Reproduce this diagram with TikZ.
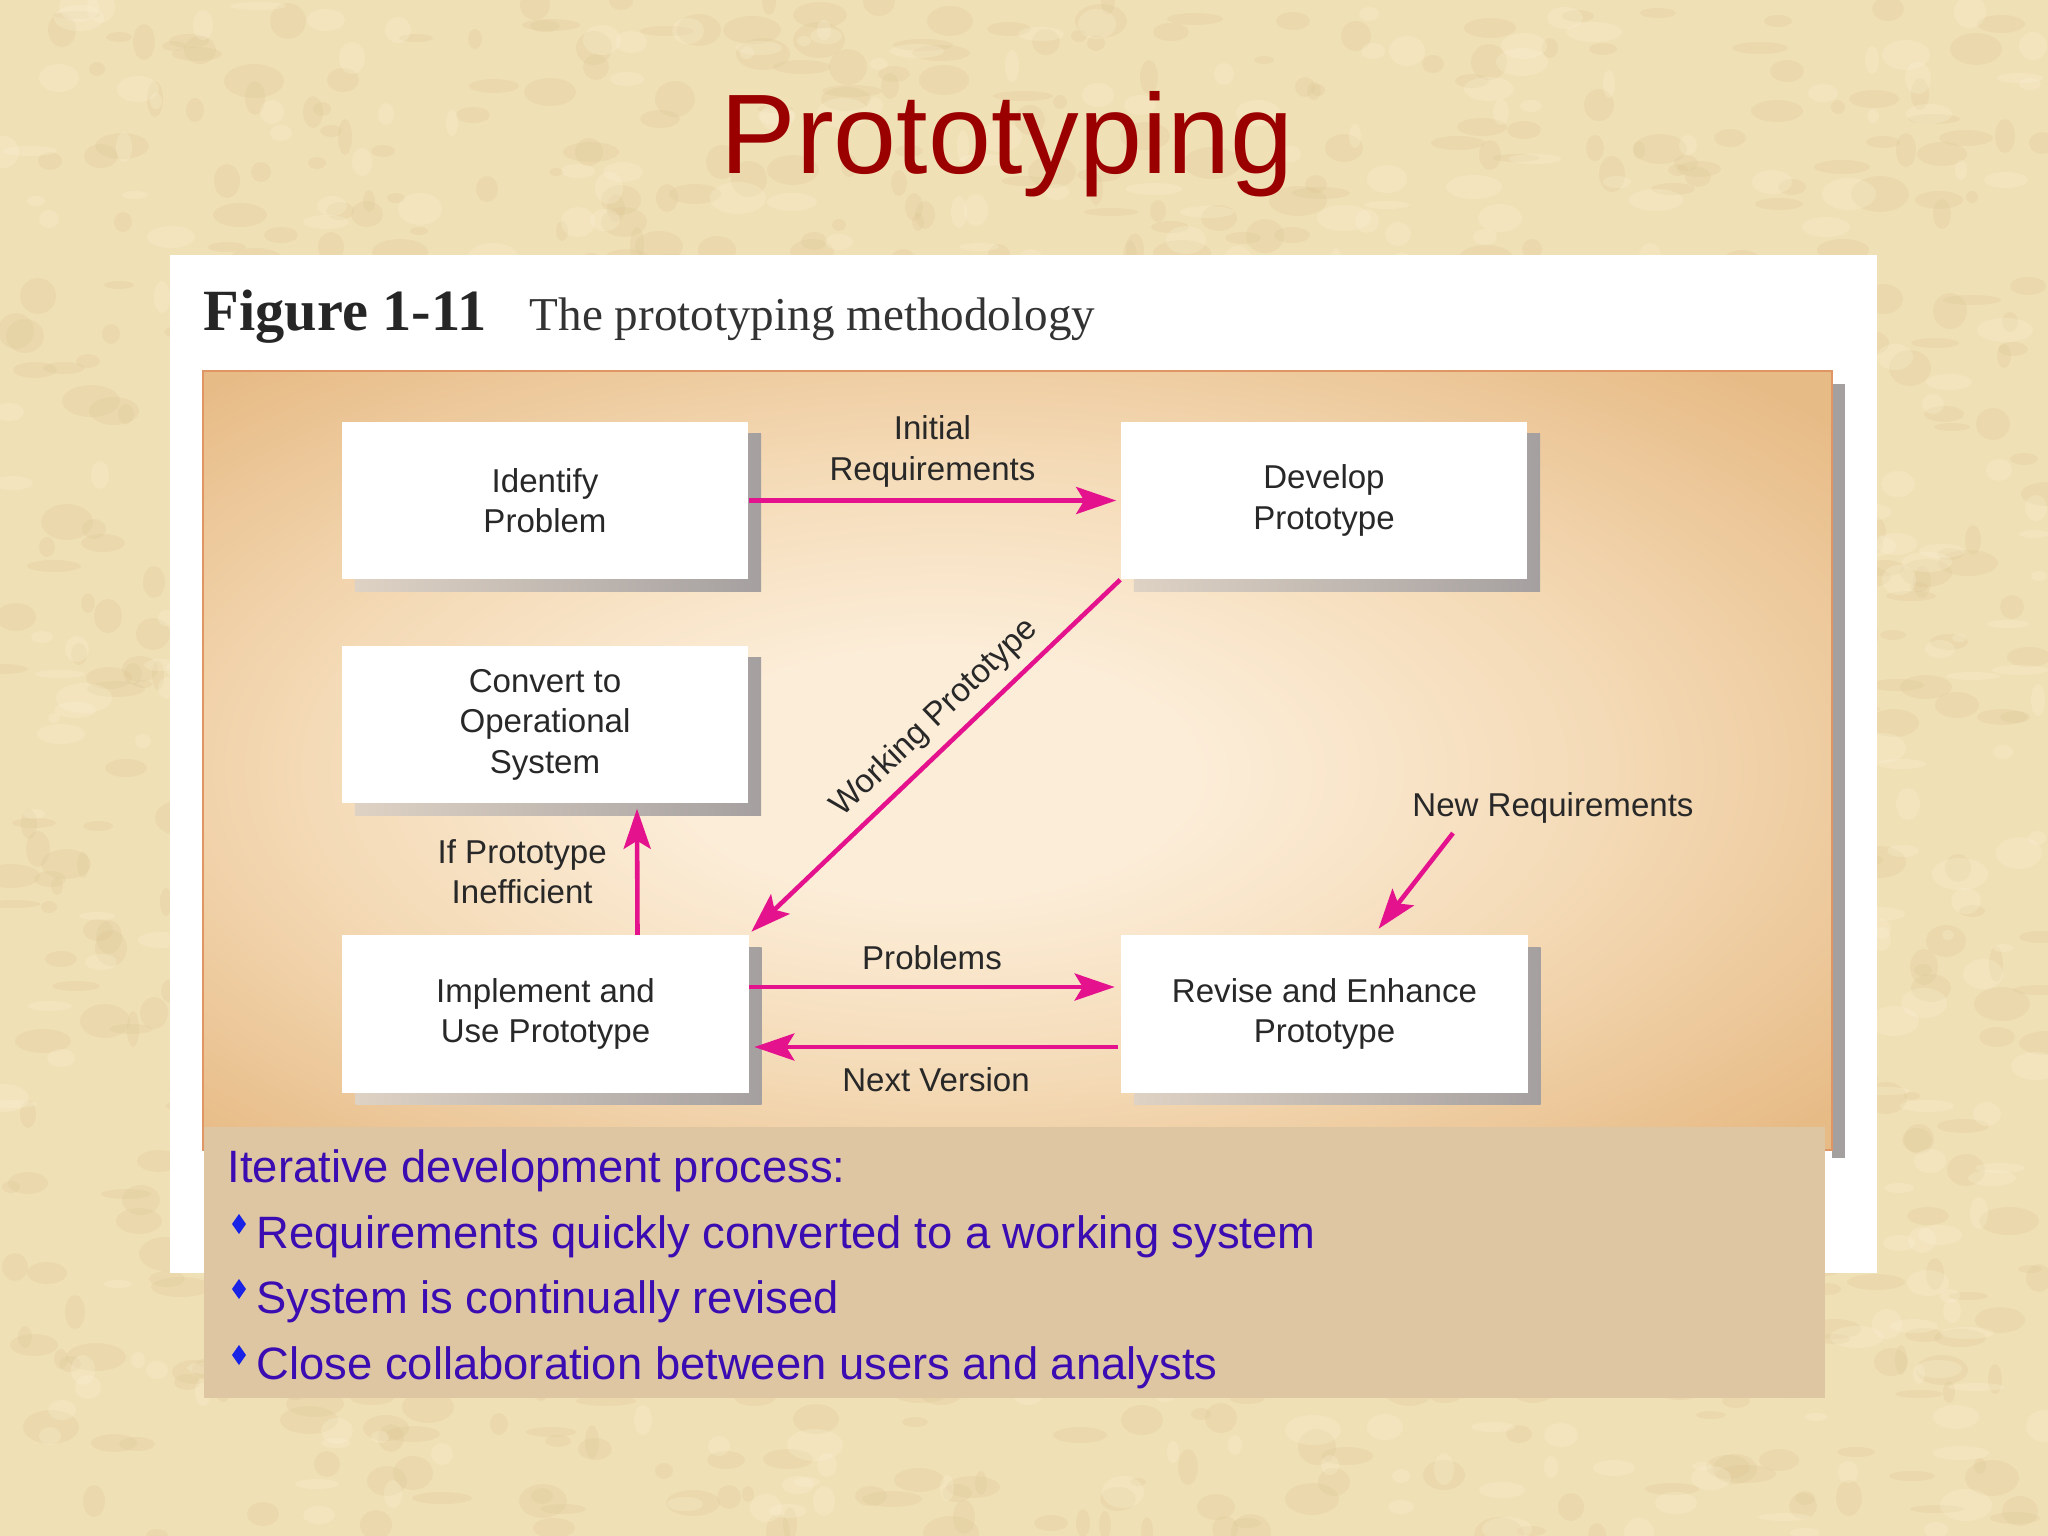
\documentclass[tikz,border=0pt]{standalone}
\usepackage{fontspec}
\setmainfont{Liberation Sans}
\newfontfamily\capfont{Liberation Serif}
\usetikzlibrary{arrows.meta,calc,shadows}

\definecolor{bgc}{RGB}{240,224,182}
\definecolor{blotc}{RGB}{212,186,132}
\definecolor{litec}{RGB}{252,242,215}
\definecolor{titlec}{RGB}{155,0,0}
\definecolor{pc1}{RGB}{252,237,216}
\definecolor{pc2}{RGB}{244,218,182}
\definecolor{pc3}{RGB}{231,187,134}
\definecolor{pborder}{RGB}{224,150,100}
\definecolor{tanc}{RGB}{221,198,161}
\definecolor{magc}{RGB}{228,18,140}
\definecolor{txtc}{RGB}{40,40,40}
\definecolor{bluec}{RGB}{58,12,178}
\definecolor{bulc}{RGB}{25,35,230}
\definecolor{shL}{RGB}{222,210,196}
\definecolor{shR}{RGB}{165,160,160}

\pgfdeclareradialshading{panelshade}{\pgfpoint{-3bp}{-1bp}}{color(0bp)=(pc1); color(8bp)=(pc1); color(20bp)=(pc2); color(34bp)=(pc3); color(50bp)=(pc3)}

\newcommand{\diagfont}{\fontsize{9.4pt}{11.5pt}\selectfont}
\newcommand{\btfont}{\fontsize{12.9pt}{15pt}\selectfont}

\tikzset{
  boxnode/.style={fill=white, minimum width=4.06cm, minimum height=1.57cm, inner sep=0pt,
    align=center, text=txtc, font=\diagfont,
    general shadow={shadow xshift=0.13cm, shadow yshift=-0.12cm, left color=shL, right color=shR}},
  arr/.style={draw=magc, line width=1.3pt, -{Stealth[length=0.40cm, width=0.27cm, inset=0.08cm]}},
  lbl/.style={text=txtc, font=\diagfont, align=center, inner sep=0pt},
  btext/.style={anchor=base west, text=bluec, font=\btfont, inner sep=0pt},
  bul/.style={fill=bulc}
}

\begin{document}
\begin{tikzpicture}[x=0.01cm,y=-0.01cm]
\useasboundingbox (0,0) rectangle (2048,1536);
\fill[bgc] (0,0) rectangle (2048,1536);
\begin{scope}
\clip (0,0) rectangle (2048,1536);
\pgfmathsetseed{7}
\foreach \i in {1,...,1100}{
  \pgfmathsetmacro{\bx}{random(0,2048)}
  \pgfmathsetmacro{\by}{random(0,1536)}
  \pgfmathsetmacro{\br}{random(6,30)}
  \pgfmathsetmacro{\bs}{random(4,18)}
  \fill[blotc, opacity=0.16] (\bx,\by) ellipse [x radius=\br, y radius=\bs];
}
\foreach \i in {1,...,600}{
  \pgfmathsetmacro{\bx}{random(0,2048)}
  \pgfmathsetmacro{\by}{random(0,1536)}
  \pgfmathsetmacro{\br}{random(6,28)}
  \pgfmathsetmacro{\bs}{random(4,16)}
  \fill[litec, opacity=0.25] (\bx,\by) ellipse [x radius=\br, y radius=\bs];
}
\end{scope}

% title
\node[anchor=base, text=titlec, font=\fontsize{32.2pt}{38pt}\selectfont, inner sep=0pt] (title) at (1007,173) {Prototyping};

% white figure panel
\fill[white] (170,255) rectangle (1877,1273);
\node[anchor=base west, inner sep=0pt, text=black!85, font=\capfont\fontsize{16.6pt}{18pt}\selectfont\bfseries] (fig) at (203,330) {Figure 1-11};
\node[anchor=base west, inner sep=0pt, text=black!80, font=\capfont\fontsize{13.4pt}{16pt}\selectfont] (figt) at (529,330) {The prototyping methodology};

% orange panel
\fill[shR] (1832,384) rectangle (1845,1158);
\shade[shading=panelshade, draw=pborder, line width=0.6pt] (203,371) rectangle (1832,1150);

% boxes
\node[boxnode] (idp) at (545,500.5) {Identify\\Problem};
\node[boxnode] (dev) at (1324,500.5) {Develop\\Prototype};
\node[boxnode] (conv) at (545,724.5) {Convert to\\Operational\\System};
\node[boxnode] (imp) at (545.5,1014) {Implement and\\Use Prototype};
\node[boxnode] (rev) at (1324.5,1014) {Revise and Enhance\\Prototype};

% connectors
\draw[arr] (idp.east) -- ($(dev.west)+(-4,0)$)
  node[lbl, midway, yshift=0.49cm] {Initial\\Requirements};
\draw[arr] (dev.south west) -- ($(imp.north east)+(2,-3)$)
  node[lbl, pos=0.45, sloped, above=0.1cm] {Working Prototype};
\draw[arr] ($(imp.north)+(92,0)$) -- ($(conv.south)+(92,5)$)
  node[lbl, midway, xshift=-1.15cm] {If Prototype\\Inefficient};
\draw[arr] ($(imp.east)+(0,-27)$) -- ($(rev.west)+(-6,-27)$)
  node[lbl, midway, yshift=0.29cm] {Problems};
\draw[arr] ($(rev.west)+(-3,33)$) -- ($(imp.east)+(5,33)$)
  node[lbl, midway, yshift=-0.33cm] {Next Version};
\node[lbl] (newreq) at (1553,808) {New Requirements};
\draw[arr] ($(newreq.south)+(-100,9)$) -- ($(rev.north)+(54,-6)$);

% bottom text box
\fill[tanc] (204,1127) rectangle (1825,1398);
\node[btext] (it) at (227,1182) {Iterative development process:};
\node[btext] (b1) at (256,1248) {Requirements quickly converted to a working system};
\node[btext] (b2) at (256,1313) {System is continually revised};
\node[btext] (b3) at (256,1379) {Close collaboration between users and analysts};
\foreach \yy in {1224,1289,1355}{
  \fill[bul] (239,\yy-10) -- (246,\yy) -- (239,\yy+10) -- (232,\yy) -- cycle;
}
\end{tikzpicture}
\end{document}
